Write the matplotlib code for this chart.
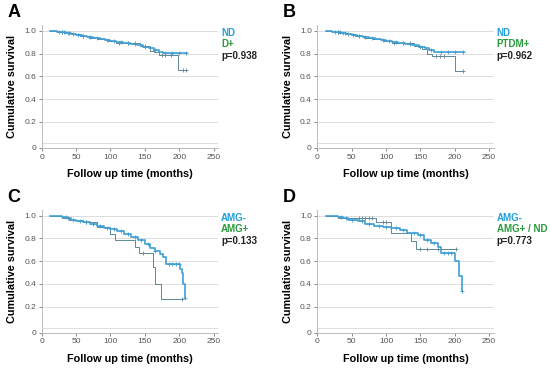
import numpy as np
import matplotlib.pyplot as plt

plt.rcParams['font.family'] = ['Liberation Sans', 'DejaVu Sans']

BLUE = '#3f9fd4'
GREY = '#5f8898'
TXT_BLUE = '#1e9fdc'
TXT_GREEN = '#2a9a3c'

# panel A: ND vs D+
a_g1_t = [12, 22, 28, 35, 42, 50, 58, 66, 75, 84, 92, 100, 108, 118, 128, 138, 148, 156, 163, 170, 176]
a_g1_s = [1.0, 0.99, 0.985, 0.978, 0.97, 0.962, 0.955, 0.945, 0.935, 0.927, 0.918, 0.91, 0.9, 0.892, 0.885, 0.875, 0.86, 0.845, 0.83, 0.815, 0.808]
a_g1_end = 212
a_g1_cens = [25, 30, 33, 38, 45, 52, 60, 70, 80, 95, 105, 115, 125, 135, 150, 165, 180, 190, 200, 210]
a_g2_t = [12, 25, 32, 45, 55, 68, 80, 95, 108, 120, 143, 158, 163, 170, 198]
a_g2_s = [1.0, 0.99, 0.98, 0.97, 0.955, 0.94, 0.928, 0.91, 0.895, 0.894, 0.865, 0.824, 0.81, 0.79, 0.655]
a_g2_end = 212
a_g2_cens = [30, 40, 60, 112, 125, 135, 150, 175, 180, 188, 205, 210]

# panel B: ND vs PTDM+
b_g1_t = [12, 22, 28, 35, 42, 50, 58, 66, 75, 84, 92, 100, 108, 118, 128, 138, 148, 156, 163, 170, 176]
b_g1_s = [1.0, 0.99, 0.985, 0.978, 0.97, 0.962, 0.955, 0.945, 0.935, 0.927, 0.918, 0.91, 0.9, 0.892, 0.885, 0.875, 0.86, 0.845, 0.83, 0.815, 0.81]
b_g1_end = 214
b_g1_cens = [25, 30, 33, 38, 45, 52, 60, 70, 80, 95, 105, 115, 125, 135, 150, 165, 180, 190, 200, 212]
b_g2_t = [12, 25, 32, 45, 55, 68, 80, 95, 108, 120, 140, 152, 160, 167, 200]
b_g2_s = [1.0, 0.99, 0.98, 0.97, 0.955, 0.94, 0.928, 0.91, 0.895, 0.893, 0.87, 0.84, 0.8, 0.78, 0.65]
b_g2_end = 212
b_g2_cens = [30, 40, 60, 112, 125, 135, 172, 178, 185, 212]

# panel C: AMG- vs AMG+
c_g1_t = [12, 30, 36, 42, 50, 60, 70, 80, 90, 100, 110, 120, 130, 140, 150, 158, 165, 172, 176, 181, 201, 204, 206, 208]
c_g1_s = [1.0, 0.99, 0.975, 0.965, 0.955, 0.94, 0.925, 0.91, 0.895, 0.88, 0.865, 0.84, 0.815, 0.785, 0.75, 0.72, 0.69, 0.665, 0.64, 0.575, 0.53, 0.5, 0.4, 0.28]
c_g1_end = 209
c_g1_cens = [35, 45, 55, 65, 75, 85, 95, 105, 115, 125, 135, 145, 155, 165, 185, 190, 196, 200, 209]
c_g2_t = [12, 30, 40, 60, 80, 100, 107, 136, 142, 162, 165, 173]
c_g2_s = [1.0, 0.98, 0.96, 0.94, 0.9, 0.84, 0.786, 0.727, 0.668, 0.545, 0.4, 0.27]
c_g2_end = 204
c_g2_cens = [38, 65, 148, 204]

# panel D: AMG- vs AMG+ / ND
d_g1_t = [12, 30, 38, 45, 59, 70, 83, 95, 107, 120, 131, 146, 155, 165, 175, 180, 201, 206, 210]
d_g1_s = [1.0, 0.99, 0.975, 0.965, 0.95, 0.93, 0.91, 0.9, 0.894, 0.87, 0.844, 0.83, 0.79, 0.756, 0.726, 0.668, 0.605, 0.47, 0.335]
d_g1_end = 210
d_g1_cens = [35, 42, 50, 65, 75, 90, 100, 115, 125, 140, 150, 160, 170, 185, 190, 195, 210]
d_g2_t = [12, 30, 86, 107, 136, 143]
d_g2_s = [1.0, 0.98, 0.947, 0.845, 0.78, 0.71]
d_g2_end = 202
d_g2_cens = [60, 65, 70, 75, 80, 95, 100, 150, 160, 175, 202]

panels = [
    ('A', [0.076, 0.599, 0.321, 0.333], ['ND', 'D+'], 'p=0.938',
     (a_g1_t, a_g1_s, a_g1_end, a_g1_cens), (a_g2_t, a_g2_s, a_g2_end, a_g2_cens)),
    ('B', [0.577, 0.599, 0.321, 0.333], ['ND', 'PTDM+'], 'p=0.962',
     (b_g1_t, b_g1_s, b_g1_end, b_g1_cens), (b_g2_t, b_g2_s, b_g2_end, b_g2_cens)),
    ('C', [0.076, 0.098, 0.321, 0.333], ['AMG-', 'AMG+'], 'p=0.133',
     (c_g1_t, c_g1_s, c_g1_end, c_g1_cens), (c_g2_t, c_g2_s, c_g2_end, c_g2_cens)),
    ('D', [0.577, 0.098, 0.321, 0.333], ['AMG-', 'AMG+ / ND'], 'p=0.773',
     (d_g1_t, d_g1_s, d_g1_end, d_g1_cens), (d_g2_t, d_g2_s, d_g2_end, d_g2_cens)),
]


def draw_km(ax, t, s, end, cens, color, lw):
    tt = list(t) + [end]
    ss = list(s) + [s[-1]]
    ax.step(tt, ss, where='post', color=color, lw=lw, zorder=3)
    idx = np.searchsorted(t, cens, side='right') - 1
    ax.plot(cens, np.array(s)[idx], ls='none', marker='+', ms=2.5, mew=0.6,
            color=color, zorder=4)


fig = plt.figure(figsize=(5.5, 3.69), dpi=100)

for letter, pos, names, ptxt, g1, g2 in panels:
    ax = fig.add_axes(pos)
    draw_km(ax, *g2, GREY, 0.7)
    draw_km(ax, *g1, BLUE, 1.2)
    ax.set_xlim(0, 257)
    ax.set_ylim(-0.03, 1.05)
    ax.set_xticks([0, 50, 100, 150, 200, 250])
    ax.set_yticks([-0.03, 0.2, 0.4, 0.6, 0.8, 1.0])
    ax.set_yticklabels(['0', '0.2', '0.4', '0.6', '0.8', '1.0'])
    for yv in [0.01, 0.2, 0.4, 0.6, 0.8, 1.0]:
        ax.axhline(yv, color='#dddddd', lw=0.7, zorder=1)
    for sp in ['top', 'right']:
        ax.spines[sp].set_visible(False)
    for sp in ['left', 'bottom']:
        ax.spines[sp].set_color('#bbbbbb')
        ax.spines[sp].set_linewidth(0.7)
    ax.tick_params(labelsize=6, colors='#555555', length=2, width=0.5, pad=2)
    ax.set_xlabel('Follow up time (months)', fontsize=7.8, fontweight='bold', labelpad=6)
    ax.set_ylabel('Cumulative survival', fontsize=7.8, fontweight='bold', labelpad=5)
    ax.text(1.015, 0.935, names[0], transform=ax.transAxes, color=TXT_BLUE,
            fontsize=7, fontweight='bold', va='center')
    ax.text(1.015, 0.845, names[1], transform=ax.transAxes, color=TXT_GREEN,
            fontsize=7, fontweight='bold', va='center')
    ax.text(1.015, 0.745, ptxt, transform=ax.transAxes, color='#222222',
            fontsize=7, fontweight='bold', va='center')
    fig.text(pos[0] - 0.062, pos[1] + pos[3] + 0.033, letter, fontsize=13,
             fontweight='bold', va='center')

fig.savefig('out.png', dpi=100)
